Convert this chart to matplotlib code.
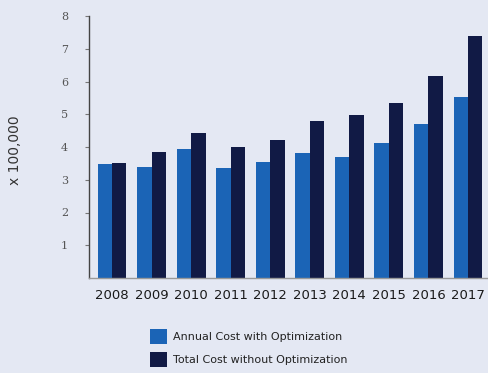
import matplotlib
matplotlib.use("Agg")
import matplotlib.pyplot as plt
import numpy as np

years = ["2008", "2009", "2010", "2011", "2012", "2013", "2014", "2015", "2016", "2017"]
annual_with_opt = [3.48, 3.39, 3.94, 3.36, 3.54, 3.82, 3.69, 4.12, 4.70, 5.53]
total_without_opt = [3.50, 3.85, 4.43, 4.00, 4.21, 4.79, 4.98, 5.34, 6.17, 7.39]
series_names = ["Annual Cost with Optimization", "Total Cost without Optimization"]
yticks = [1, 2, 3, 4, 5, 6, 7, 8]

bg = "#e4e8f3"
light = "#1b64b6"
dark = "#111a45"

fig = plt.figure(figsize=(4.89, 3.73), dpi=100, facecolor=bg)
ax = fig.add_axes([89/489, 95/373, 1 - 89/489, (278-16)/373])
ax.set_facecolor(bg)

x = np.arange(len(years))
w = 0.365
ax.bar(x - w/2, annual_with_opt, width=w, color=light, label=series_names[0])
ax.bar(x + w/2, total_without_opt, width=w, color=dark, label=series_names[1])

ax.set_xlim(-0.58, 9.53)
ax.set_ylim(0, 8)
ax.set_xticks(x)
ax.set_xticklabels(years, fontsize=9.5, color="#1a1a1a", family="DejaVu Sans")
ax.set_yticks(yticks)
ax.set_yticklabels([str(v) for v in yticks], fontsize=8, color="#555555", family="DejaVu Serif")
ax.tick_params(axis="x", length=0, pad=8)
ax.tick_params(axis="y", length=3, width=0.8, color="#777777", pad=12)

for s in ["top", "right"]:
    ax.spines[s].set_visible(False)
ax.spines["left"].set_color("#444444")
ax.spines["left"].set_linewidth(1.0)
ax.spines["bottom"].set_color("#999999")
ax.spines["bottom"].set_linewidth(1.0)

fig.text(15/489, 1 - 150/373, "x 100,000", rotation=90, ha="center", va="center",
         fontsize=10, color="#333333")

handles, labels = ax.get_legend_handles_labels()
leg = fig.legend(handles, labels, loc="upper left", bbox_to_anchor=(150/489, 1 - 329/373),
                 frameon=False, fontsize=8, handlelength=1.5, handleheight=1.7,
                 handletextpad=0.6, labelspacing=0.75, borderaxespad=0, borderpad=0)
for t in leg.get_texts():
    t.set_color("#222222")

fig.savefig("out.png", dpi=100, facecolor=bg)
